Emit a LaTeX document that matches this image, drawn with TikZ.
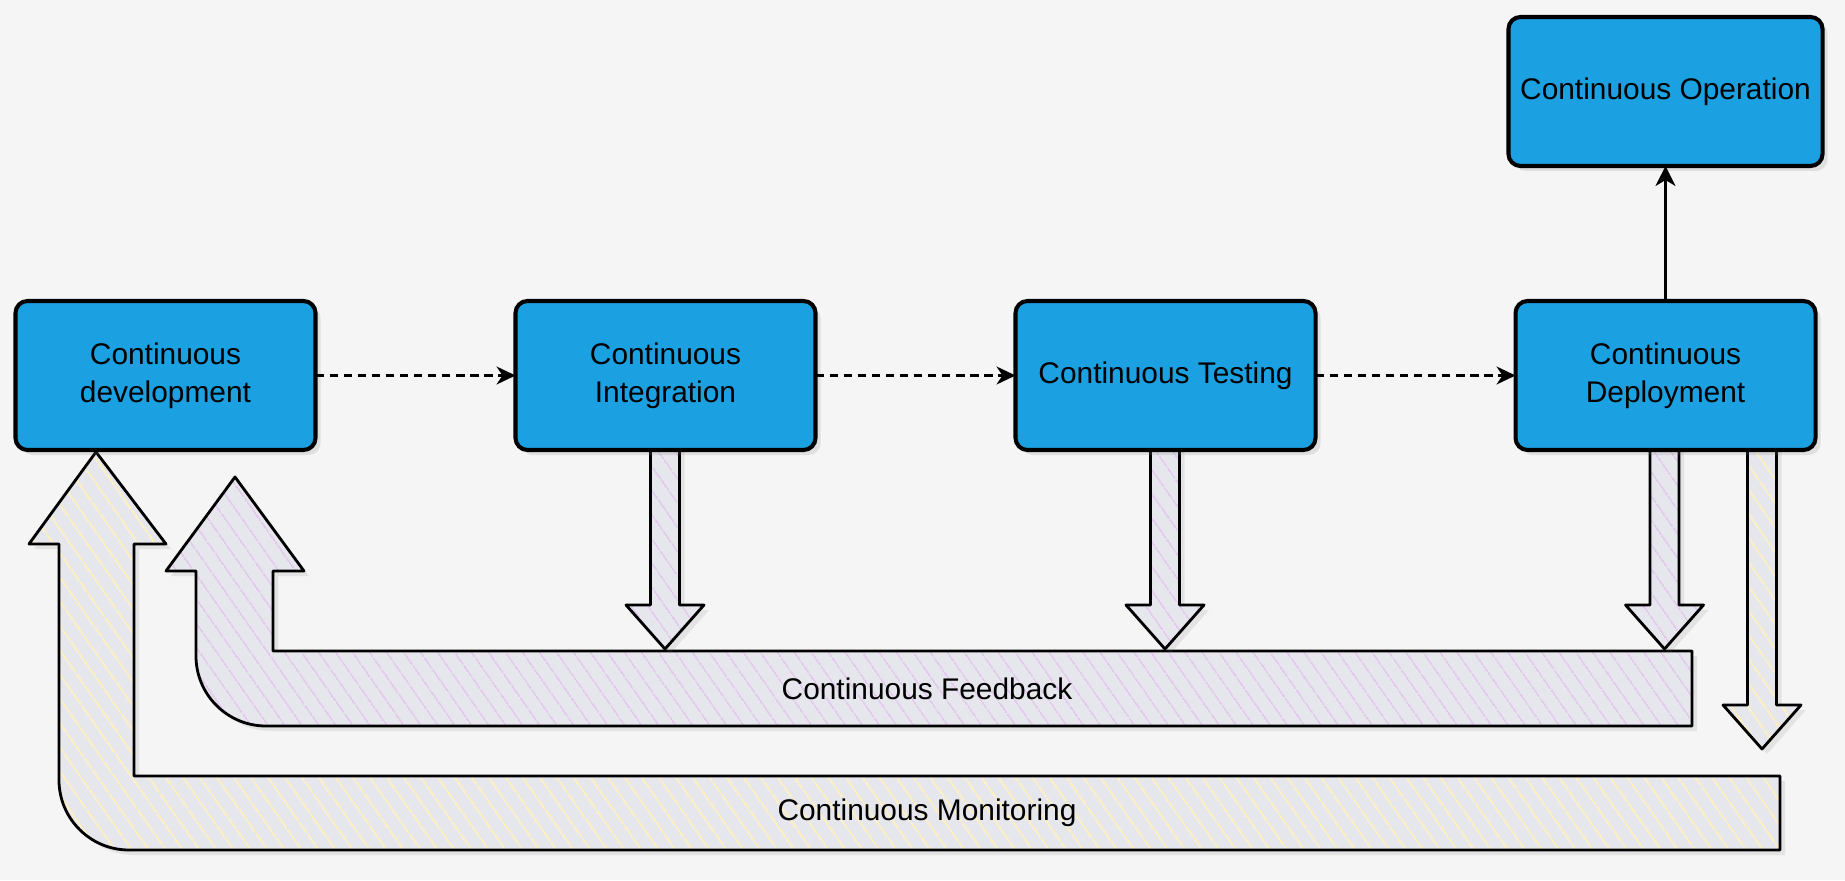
\documentclass[tikz,border=0pt]{standalone}
\usepackage{fontspec}
\setmainfont{Liberation Sans}
\usetikzlibrary{positioning,arrows.meta,patterns.meta,shadows}

\definecolor{canvas}{HTML}{F5F5F5}
\definecolor{stageblue}{HTML}{1BA1E2}
\definecolor{barbase}{HTML}{E6E6ED}
\definecolor{fbhatch}{HTML}{E2C8EC}
\definecolor{monhatch}{HTML}{FFF0BA}

\def\blockdown[#1](#2:#3:#4){\draw[#1] ({#2-0.145},#3) -- ({#2-0.145},{#4+0.44}) -- ({#2-0.39},{#4+0.44}) -- (#2,#4) -- ({#2+0.39},{#4+0.44}) -- ({#2+0.145},{#4+0.44}) -- ({#2+0.145},#3) -- cycle;}

\tikzset{
	stage/.style={draw=black, line width=1.15pt, fill=stageblue, rounded corners=0.12cm,
		minimum width=3cm, minimum height=1.49cm, outer sep=0, align=center,
		font=\fontsize{8.5}{10.7}\selectfont,
		drop shadow={opacity=0.18, shadow xshift=0.5mm, shadow yshift=-0.5mm}},
	flowdash/.style={line width=0.6pt, dash pattern=on 2.4pt off 1.6pt,
		-{Stealth[length=1.9mm, width=1.8mm, inset=0.6mm]}},
	flowsolid/.style={line width=0.7pt, -{Stealth[length=2mm, width=2mm, inset=0.6mm]}},
	fbshape/.style={draw=black, line width=0.8pt, line join=round,
		drop shadow={opacity=0.15, shadow xshift=0.5mm, shadow yshift=-0.5mm},
		preaction={fill=barbase},
		pattern={Lines[angle=-55, distance=4pt, line width=0.6pt]}, pattern color=fbhatch},
	monshape/.style={fbshape, pattern color=monhatch},
	barlabel/.style={font=\fontsize{8.5}{10.7}\selectfont, inner sep=0}
}

\begin{document}
\begin{tikzpicture}
	%%%%% START %%%%%
	\useasboundingbox (0,0) rectangle (18.45,8.8);
	\fill[canvas] (0,0) rectangle (18.45,8.8);
	
	% monitoring loop
	\draw[monshape] (17.80,1.04) -- (1.34,1.04) -- (1.34,3.36) -- (1.66,3.36) -- (0.96,4.28) -- (0.29,3.36) -- (0.59,3.36) -- (0.59,1.00) arc[start angle=180, end angle=270, radius=0.7] -- (17.80,0.30) -- cycle;
	\node[barlabel] (monlabel) at (9.27,0.67) {Continuous Monitoring};
	
	% feedback loop
	\draw[fbshape] (16.92,2.29) -- (2.73,2.29) -- (2.73,3.09) -- (3.04,3.09) -- (2.35,4.03) -- (1.66,3.09) -- (1.96,3.09) -- (1.96,2.24) arc[start angle=180, end angle=270, radius=0.7] -- (16.92,1.54) -- cycle;
	\node[barlabel] (fblabel) at (9.27,1.915) {Continuous Feedback};
	
	% block arrows down
	\blockdown[fbshape](6.65:4.33:2.31)
	\blockdown[fbshape](11.65:4.33:2.31)
	\blockdown[fbshape](16.645:4.33:2.31)
	\blockdown[monshape](17.62:4.33:1.31)
	
	% stages
	\node[stage] (cd) at (1.655,5.045) {Continuous\\development};
	\node[stage, right=2cm of cd] (ci) {Continuous\\Integration};
	\node[stage, right=2cm of ci] (ct) {Continuous Testing};
	\node[stage, right=2cm of ct] (cdep) {Continuous\\Deployment};
	\node[stage, above=1.35cm of cdep] (co) {Continuous Operation};
	
	\draw[flowdash] (cd) -- (ci);
	\draw[flowdash] (ci) -- (ct);
	\draw[flowdash] (ct) -- (cdep);
	\draw[flowsolid] (cdep) -- (co);
	%%%%% END %%%%%
\end{tikzpicture}
\end{document}
